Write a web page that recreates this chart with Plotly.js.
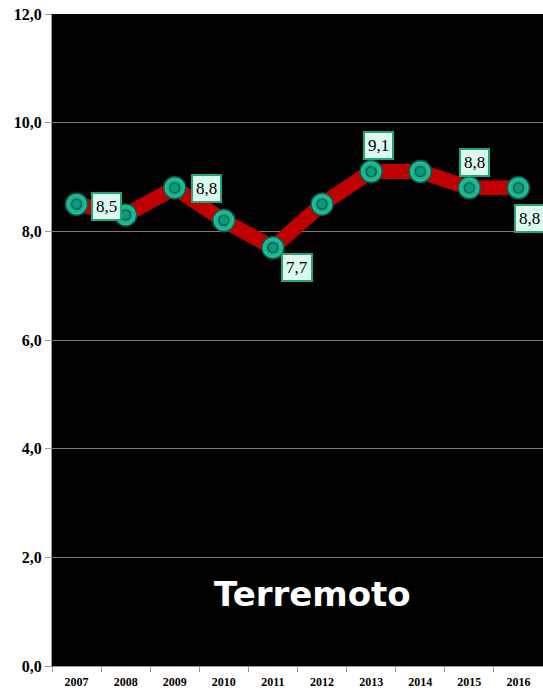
<!DOCTYPE html>
<html><head><meta charset="utf-8">
<script src="https://cdn.plot.ly/plotly-3.0.1.min.js"></script>
<style>html,body{margin:0;padding:0;background:#fff}#c{width:543px;height:692px}</style>
</head><body><div id="c"></div>
<script>
const years = ['2007','2008','2009','2010','2011','2012','2013','2014','2015','2016'];
const values = [8.5, 8.3, 8.8, 8.2, 7.7, 8.5, 9.1, 9.1, 8.8, 8.8];
const labelYears = ['2007','2009','2011','2013','2015','2016'];
const labelValues = [8.5, 8.8, 7.7, 9.1, 8.8, 8.8];
const labelOffsetX = [30, 32, 24, 7, 5, 11];
const labelOffsetY = [-2, -1, -20, 26, 25, -31];
const yTicks = [0, 2, 4, 6, 8, 10, 12];
const chartTitle = 'Terremoto';

const idx = years.map((_, i) => i);
const fmt = v => v.toFixed(1).replace('.', ',');

const annotations = labelYears.map((yr, i) => ({
  x: years.indexOf(yr), y: labelValues[i], xref: 'x', yref: 'y',
  text: fmt(labelValues[i]), showarrow: false,
  xshift: labelOffsetX[i], yshift: labelOffsetY[i],
  bgcolor: '#dcfaee', bordercolor: '#1fa77a', borderwidth: 2, borderpad: 3,
  font: {family: 'Liberation Serif, Times New Roman, serif', size: 17, color: '#000'}
}));
annotations.push({
  x: 0.531, y: 0.11, xref: 'paper', yref: 'paper', xanchor: 'center', yanchor: 'middle',
  text: '<b>' + chartTitle + '</b>',
  showarrow: false, font: {family: 'DejaVu Sans, Verdana, sans-serif', size: 34, color: '#fff'}
});

const data = [
  {x: idx, y: values, type: 'scatter', mode: 'lines',
   line: {color: '#c00000', width: 15}, hoverinfo: 'skip'},
  {x: idx, y: values, type: 'scatter', mode: 'markers',
   marker: {size: 22, color: '#22c9a0', line: {color: '#0b5e4c', width: 1.5},
            gradient: {type: 'radial', color: '#0a8a6e'}}, hoverinfo: 'skip'},
  {x: idx, y: values, type: 'scatter', mode: 'markers',
   marker: {size: 10, color: '#0a9a7a', line: {color: '#06574a', width: 1.2}}, hoverinfo: 'skip'}
];

const layout = {
  width: 543, height: 692,
  margin: {l: 52, r: 0, t: 14, b: 26},
  paper_bgcolor: '#fff', plot_bgcolor: '#000',
  showlegend: false, separators: ',.',
  xaxis: {range: [-0.5, years.length - 0.5], tickvals: idx, ticktext: years, ticks: '',
          tickangle: 0, ticklabelstandoff: 5,
          minor: {tick0: 0.5, dtick: 1, ticks: 'outside', ticklen: 5, tickcolor: '#999', showgrid: false},
          showgrid: false, showline: true, linecolor: '#999', linewidth: 1, zeroline: false,
          tickfont: {family: 'Liberation Serif, Times New Roman, serif', size: 12, color: '#000', weight: 'bold'},
          fixedrange: true},
  yaxis: {range: [0, 12], tickvals: yTicks, tickformat: '.1f', ticks: 'outside', ticklen: 6,
          tickcolor: '#999', showgrid: true, gridcolor: '#7a7a7a', gridwidth: 1,
          showline: true, linecolor: '#999', zeroline: false,
          tickfont: {family: 'Liberation Serif, Times New Roman, serif', size: 16, color: '#000', weight: 'bold'},
          fixedrange: true},
  annotations: annotations
};
Plotly.newPlot('c', data, layout, {displayModeBar: false, staticPlot: true});
</script></body></html>
